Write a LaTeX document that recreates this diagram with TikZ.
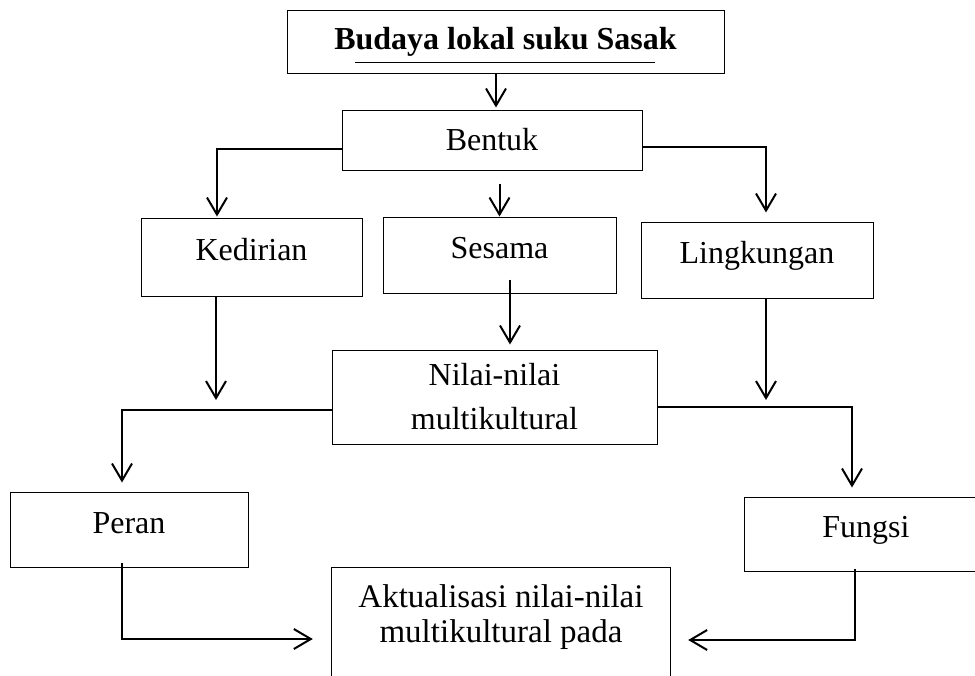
\documentclass[tikz,border=0pt]{standalone}
\usepackage{fontspec}
\setmainfont{Liberation Serif}
\usetikzlibrary{arrows.meta}

\begin{document}
\begin{tikzpicture}[x=1pt,y=-1pt,
    box/.style={draw, line width=1pt, inner sep=0pt},
    boxtop/.style={box, text height=22pt, text depth=15pt},
    arr/.style={line width=2pt, -{Straight Barb[length=17pt,width=20pt]}}]
  \def\fs{\fontsize{32}{44}\selectfont}
  \useasboundingbox (0,0) rectangle (975,675);

  % the boxes
  \node[box, minimum width=437pt, minimum height=63pt, font=\fontsize{32}{44}\selectfont\bfseries] (budaya) at (505.5,41.5) {Budaya lokal suku Sasak};
  \draw[line width=0.8pt] (355,62) -- (655,62); % line under the title
  \node[box, minimum width=300pt, minimum height=60pt, font=\fs] (bentuk) at (492,140) {Bentuk};
  \node[boxtop, minimum width=221pt, minimum height=78pt, font=\fs] (kedirian) at (251.5,257) {Kedirian};
  \node[boxtop, minimum width=233pt, minimum height=76pt, font=\fs] (sesama) at (499.5,255) {Sesama};
  \node[boxtop, minimum width=232pt, minimum height=76pt, font=\fs] (lingkungan) at (757,260) {Lingkungan};
  \node[box, minimum width=325pt, minimum height=94pt, font=\fs, align=center] (nilai) at (494.5,397) {Nilai-nilai\\multikultural};
  \node[boxtop, minimum width=238pt, minimum height=75pt, font=\fs] (peran) at (129,529.5) {Peran};
  \node[boxtop, minimum width=244pt, minimum height=74pt, font=\fs] (fungsi) at (866,534) {Fungsi}; % runs off the right edge
  % last box is cut at the bottom
  \node[minimum width=338pt, minimum height=99pt, align=center, font=\fontsize{33}{35}\selectfont] (aktual) at (501,617.5) {Aktualisasi nilai-nilai\\multikultural pada};
  \draw[line width=1pt] ([yshift=-12pt]aktual.south west) |- (aktual.north east) -- ([yshift=-12pt]aktual.south east);

  % the arrows
  \draw[arr] ([xshift=4pt]bentuk.north |- budaya.south) -- ([xshift=4pt,yshift=2pt]bentuk.north);
  \draw[arr] ([yshift=-9pt]bentuk.west) -| ([xshift=-34.5pt,yshift=1pt]kedirian.north);
  \draw[arr] ([yshift=-7pt]bentuk.east) -| ([xshift=9pt,yshift=9pt]lingkungan.north);
  \draw[arr] (sesama.north |- bentuk.south) ++(0,13) -- (sesama.north);
  \draw[arr] ([xshift=10.5pt,yshift=14pt]sesama.south) -- ([xshift=15.5pt,yshift=5pt]nilai.north);
  \coordinate (kd) at (216,400);
  \coordinate (lk) at (766,400);
  \draw[arr] (kedirian.south -| kd) -- (kd);
  \draw[arr] (lingkungan.south -| lk) -- (lk);
  \draw[arr] ([yshift=-13pt]nilai.west) -| ([xshift=-7pt,yshift=9pt]peran.north);
  \draw[arr] ([yshift=-10pt]nilai.east) -| ([xshift=-14pt,yshift=9pt]fungsi.north);
  \draw[arr] ([xshift=-7pt,yshift=5pt]peran.south) |- ([xshift=-19pt,yshift=-21.5pt]aktual.west);
  \draw[arr] ([xshift=-11pt,yshift=3pt]fungsi.south) |- ([xshift=18pt,yshift=-22.5pt]aktual.east);
\end{tikzpicture}
\end{document}
